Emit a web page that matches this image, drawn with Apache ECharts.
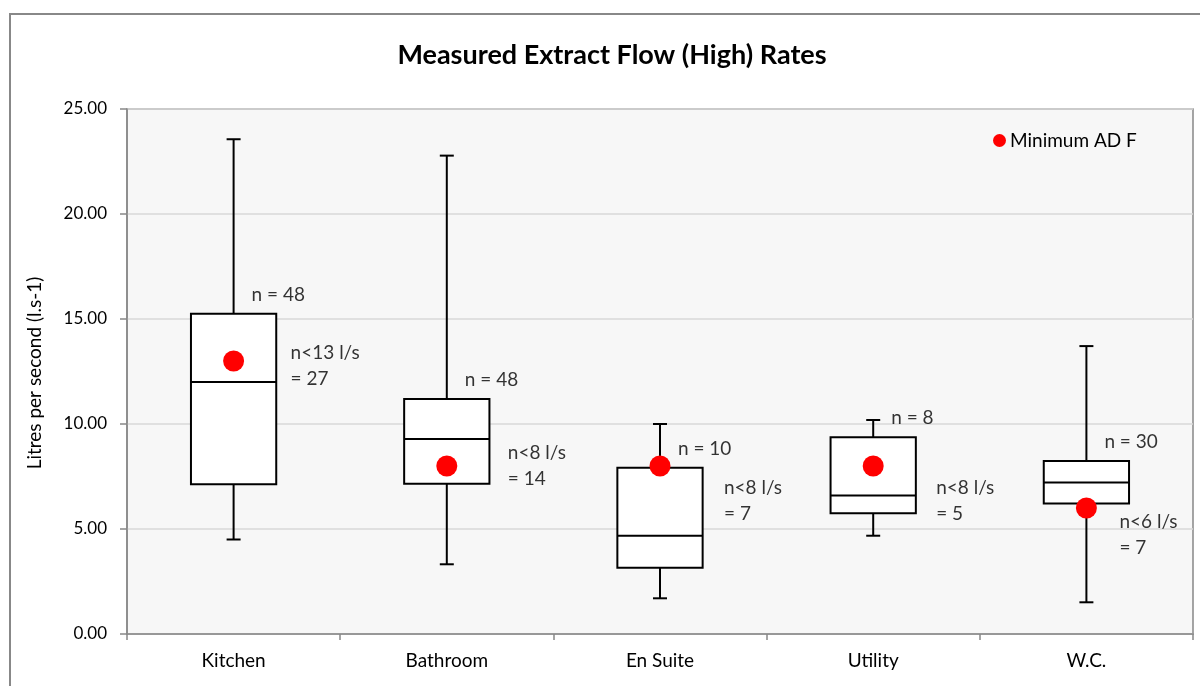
<!DOCTYPE html>
<html>
<head>
<meta charset="utf-8">
<script src="https://cdn.jsdelivr.net/npm/echarts@6/dist/echarts.min.js"></script>
<style>
html,body{margin:0;padding:0;background:#fff;}
#chart{width:1200px;height:686px;}
</style>
</head>
<body>
<div id="chart"></div>
<script>
const categories = ['Kitchen', 'Bathroom', 'En Suite', 'Utility', 'W.C.'];
const minVals    = [4.50, 3.32, 1.70, 4.68, 1.51];
const q1Vals     = [7.13, 7.15, 3.15, 5.75, 6.22];
const medianVals = [12.00, 9.29, 4.68, 6.59, 7.22];
const q3Vals     = [15.25, 11.19, 7.92, 9.37, 8.24];
const maxVals    = [23.56, 22.78, 10.00, 10.19, 13.71];
const adfMinimum = [13, 8, 8, 8, 6];
const nTotal     = [48, 48, 10, 8, 30];
const nBelow     = [27, 14, 7, 5, 7];
const yTicks     = [0, 5, 10, 15, 20, 25];
// annotation anchors (value where the "n<..." note sits) and its horizontal offset
const noteY  = [12.76, 8.02, 6.33, 6.33, 4.72];
const noteDx = [57, 61, 64, 63, 33];

const FONT = 'Lato, "Open Sans", sans-serif';
const chart = echarts.init(document.getElementById('chart'), null, {renderer: 'canvas'});

const boxData = categories.map((c, i) => [i, minVals[i], q1Vals[i], medianVals[i], q3Vals[i], maxVals[i]]);

function renderBox(params, api) {
  const i = api.value(0);
  const pMin = api.coord([i, api.value(1)]);
  const pQ1 = api.coord([i, api.value(2)]);
  const pMed = api.coord([i, api.value(3)]);
  const pQ3 = api.coord([i, api.value(4)]);
  const pMax = api.coord([i, api.value(5)]);
  const bw = api.size([1, 0])[0] * 0.40;
  const cx = pMed[0];
  const cap = 7;
  const st = {stroke: '#000', lineWidth: 2, fill: null};
  return {
    type: 'group',
    children: [
      {type: 'line', shape: {x1: cx, y1: pMax[1], x2: cx, y2: pQ3[1]}, style: st},
      {type: 'line', shape: {x1: cx, y1: pQ1[1], x2: cx, y2: pMin[1]}, style: st},
      {type: 'line', shape: {x1: cx - cap, y1: pMax[1], x2: cx + cap, y2: pMax[1]}, style: st},
      {type: 'line', shape: {x1: cx - cap, y1: pMin[1], x2: cx + cap, y2: pMin[1]}, style: st},
      {type: 'rect', shape: {x: cx - bw / 2, y: pQ3[1], width: bw, height: pQ1[1] - pQ3[1]},
        style: {fill: '#fff', stroke: '#000', lineWidth: 2}},
      {type: 'line', shape: {x1: cx - bw / 2, y1: pMed[1], x2: cx + bw / 2, y2: pMed[1]}, style: st}
    ]
  };
}

const option = {
  animation: false,
  backgroundColor: '#fff',
  textStyle: {fontFamily: FONT},
  graphic: [
    {type: 'rect', shape: {x: 10, y: 14, width: 1300, height: 800},
      style: {fill: null, stroke: '#888', lineWidth: 2}, silent: true, z: -1},
    {type: 'text', x: 612, y: 55, style: {text: 'Measured Extract Flow (High) Rates', fill: '#000',
      font: 'bold 27px ' + FONT, align: 'center', verticalAlign: 'middle'}},
    {type: 'text', x: 35, y: 373, rotation: Math.PI / 2, style: {text: 'Litres per second (l.s-1)', fill: '#000',
      font: '19px ' + FONT, align: 'center', verticalAlign: 'middle'}}
  ],
  legend: {
    data: [{name: 'Minimum AD F', icon: 'circle'}],
    left: 993, top: 131, padding: 0,
    itemWidth: 13, itemHeight: 13, itemGap: 5,
    textStyle: {fontSize: 19, color: '#000', fontFamily: FONT, padding: [0, 0, 0, -1]}
  },
  grid: {
    left: 127, right: 7, top: 109, bottom: 52,
    show: true, backgroundColor: '#f7f7f7', borderColor: '#888', borderWidth: 1.5
  },
  xAxis: {
    type: 'category', data: categories,
    axisLine: {lineStyle: {color: '#888', width: 1.5}},
    axisTick: {show: true, length: 6, lineStyle: {color: '#888', width: 1.5}},
    axisLabel: {color: '#000', fontSize: 19, margin: 17, fontFamily: FONT},
    splitLine: {show: false}
  },
  yAxis: {
    type: 'value', min: 0, max: 25, interval: 5,
    axisLine: {show: true, lineStyle: {color: '#888', width: 1.5}},
    axisTick: {show: true, length: 7, lineStyle: {color: '#888', width: 1.5}},
    axisLabel: {color: '#000', fontSize: 17, margin: 20, fontFamily: FONT,
      formatter: v => yTicks.includes(v) ? v.toFixed(2) : ''},
    splitLine: {show: true, lineStyle: {color: '#d9d9d9', width: 1.5}}
  },
  series: [
    {
      type: 'custom', name: 'box', renderItem: renderBox, data: boxData, z: 2,
      encode: {x: 0, y: [1, 2, 3, 4, 5]}
    },
    {
      type: 'scatter', name: 'Minimum AD F', data: adfMinimum.map((v, i) => [i, v]),
      symbol: 'circle', symbolSize: 21, itemStyle: {color: '#ff0000', opacity: 1}, z: 5
    },
    {
      type: 'scatter', name: 'nlab', data: q3Vals.map((v, i) => [i, v]),
      symbolSize: 0, silent: true, z: 6,
      label: {show: true, position: 'inside', align: 'left', verticalAlign: 'middle',
        offset: [18, -19], color: '#000', fontSize: 19, fontFamily: FONT,
        formatter: p => 'n = ' + nTotal[p.dataIndex]}
    },
    {
      type: 'scatter', name: 'note', data: noteY.map((v, i) => [i, v]),
      symbolSize: 0, silent: true, z: 6,
      label: {show: true, position: 'inside', align: 'left', verticalAlign: 'middle',
        color: '#000', fontSize: 19, lineHeight: 26, fontFamily: FONT,
        formatter: p => 'n<' + adfMinimum[p.dataIndex] + ' l/s\n= ' + nBelow[p.dataIndex]}
    }
  ]
};
// per-point horizontal offsets for the notes
option.series[3].data = noteY.map((v, i) => ({value: [i, v], label: {offset: [noteDx[i], 0]}}));
chart.setOption(option);
</script>
</body>
</html>
